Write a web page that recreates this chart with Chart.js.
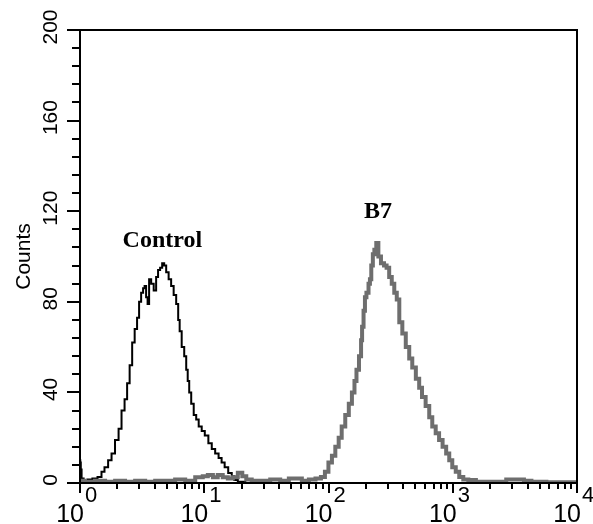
<!DOCTYPE html>
<html>
<head>
<meta charset="utf-8">
<script src="https://cdn.jsdelivr.net/npm/chart.js@4.4.1/dist/chart.umd.min.js"></script>
<style>
  html, body { margin: 0; padding: 0; background: #ffffff; }
  #wrap { width: 593px; height: 524px; position: relative; }
</style>
</head>
<body>
<div id="wrap"><canvas id="c" width="593" height="524"></canvas></div>
<script>
// ---- data ----
const controlX = [1.00, 1.01, 1.02, 1.04, 1.10, 1.20, 1.32, 1.45, 1.53, 1.62, 1.75, 1.84, 1.99, 2.10, 2.22, 2.35, 2.44, 2.58, 2.68, 2.83, 2.93, 3.05, 3.16, 3.28, 3.34, 3.47, 3.53, 3.67, 3.81, 4.03, 4.17, 4.33, 4.50, 4.67, 4.85, 5.03, 5.31, 5.52, 5.83, 6.06, 6.28, 6.40, 6.77, 7.03, 7.29, 7.43, 7.71, 8.00, 8.46, 8.77, 9.28, 9.81, 10.4, 11.2, 11.8, 12.7, 13.4, 14.2, 15.0, 16.2, 17.1, 17.8, 19.5, 23.5, 10000];
const controlCounts = [10, 9, 6, 2, 1, 1.5, 2, 2.6, 5, 7, 10, 13, 19, 24, 32, 37, 44, 52, 62, 68, 73, 80, 84, 86, 87, 82, 79, 90, 88, 85, 91, 94, 95, 97, 96, 93, 90, 87, 83, 79, 72, 67, 60, 56, 50, 45, 40, 35, 30, 28, 25, 23, 21, 17.6, 15, 13, 11, 9, 7, 4.4, 3, 1.3, 0.5, 0, 0];

const b7X = [1.0, 1.2, 1.45, 1.75, 2.1, 2.53, 3.05, 3.67, 4.42, 5.31, 6.40, 7.71, 9.28, 10.2, 11.2, 12.3, 13.4, 14.8, 16.2, 17.8, 19.5, 21.0, 22.6, 25.7, 31.0, 37.2, 44.9, 51.2, 57.3, 65.0, 74.4, 83.0, 91.0, 96.2, 103.7, 109.5, 117.6, 124, 131.5, 141.5, 150, 158.8, 164.9, 171, 181, 184.7, 188, 195, 198, 206, 214, 217, 225, 230, 238, 247, 257, 272, 288, 299, 317, 329, 348, 361, 382, 404, 434, 459, 486, 524, 550, 582, 629, 665, 704, 755, 798, 860, 911, 964, 1019, 1097, 1160, 1274, 1398, 1687, 2035, 2454, 2960, 3570, 3920, 4710, 6830, 10000];
const b7Counts = [1, 0.5, 1, 0.5, 1, 0.5, 1, 0.5, 1, 1, 1.5, 1, 2.5, 3, 3.5, 2.5, 3.5, 2.5, 2, 2.5, 4.5, 3, 1.5, 1, 1, 1.5, 1, 2, 2, 1, 1.5, 2, 2.6, 5, 9, 12, 16, 20, 25, 30, 35, 40, 45, 50, 56, 63, 69, 76, 82, 84, 88, 90, 96, 101, 103, 106, 100, 97, 96, 95, 91, 88, 84, 81, 71, 66, 60, 55, 51, 46, 42, 38, 34, 29, 25, 22, 19, 16, 13, 10, 7, 5, 2.6, 1.5, 1.3, 0.5, 0.5, 0.5, 1.5, 1.5, 1, 0.5, 0.3, 0.3];

const yTickValues = [0, 8, 16, 24, 32, 40, 48, 56, 64, 72, 80, 88, 96, 104, 112, 120, 128, 136, 144, 152, 160, 168, 176, 184, 192, 200];
const yLabelValues = [0, 40, 80, 120, 160, 200];
const xMajorValues = [1, 10, 100, 1000, 10000];
const xMajorExponents = ['0', '1', '2', '3', '4'];
const xMinorMultipliers = [2, 3, 4, 5, 6, 7, 8, 9];
const seriesNames = ['Control', 'B7'];
const annotationX = [4.6, 250];
const annotationY = [104, 117];
const yAxisTitle = 'Counts';

function toPoints(xs, ys) { return xs.map((x, i) => ({ x: x, y: ys[i] })); }

const framePlugin = {
  id: 'frame',
  afterDatasetsDraw(chart) {
    const ctx = chart.ctx;
    const xs = chart.scales.x, ys = chart.scales.y;
    const a = chart.chartArea;
    ctx.save();
    ctx.strokeStyle = '#000';
    ctx.lineWidth = 2;
    ctx.strokeRect(a.left, a.top, a.right - a.left, a.bottom - a.top);
    // y ticks
    ctx.beginPath();
    yTickValues.forEach(v => {
      const py = Math.round(ys.getPixelForValue(v));
      const len = (v % 40 === 0) ? 13 : 8;
      ctx.moveTo(a.left - len, py);
      ctx.lineTo(a.left, py);
    });
    // x ticks
    xMajorValues.forEach((v, i) => {
      const px = Math.round(xs.getPixelForValue(v));
      ctx.moveTo(px, a.bottom);
      ctx.lineTo(px, a.bottom + 10);
      if (i < xMajorValues.length - 1) {
        xMinorMultipliers.forEach(m => {
          const qx = Math.round(xs.getPixelForValue(v * m));
          ctx.moveTo(qx, a.bottom);
          ctx.lineTo(qx, a.bottom + 6);
        });
      }
    });
    ctx.stroke();
    // y labels (rotated)
    ctx.fillStyle = '#000';
    ctx.font = '21px "Liberation Sans", Arial, sans-serif';
    ctx.textAlign = 'center';
    ctx.textBaseline = 'alphabetic';
    yLabelValues.forEach(v => {
      const py = ys.getPixelForValue(v);
      ctx.save();
      ctx.translate(57, py - 3);
      ctx.rotate(-Math.PI / 2);
      ctx.fillText(String(v), 0, 0);
      ctx.restore();
    });
    // y title
    ctx.save();
    ctx.font = '21px "Liberation Sans", Arial, sans-serif';
    ctx.translate(30, (a.top + a.bottom) / 2);
    ctx.rotate(-Math.PI / 2);
    ctx.fillText(yAxisTitle, 0, 0);
    ctx.restore();
    // x labels with superscripts
    xMajorValues.forEach((v, i) => {
      const px = xs.getPixelForValue(v);
      ctx.font = '25px "Liberation Sans", Arial, sans-serif';
      ctx.textAlign = 'right';
      ctx.fillText('10', px + 4, 522);
      ctx.font = '22px "Liberation Sans", Arial, sans-serif';
      ctx.textAlign = 'left';
      ctx.fillText(xMajorExponents[i], px + 5, 502);
    });
    // series annotations
    ctx.font = 'bold 24px "Liberation Serif", "Times New Roman", serif';
    ctx.textAlign = 'center';
    seriesNames.forEach((n, i) => {
      ctx.fillText(n, xs.getPixelForValue(annotationX[i]), ys.getPixelForValue(annotationY[i]));
    });
    ctx.restore();
  }
};

new Chart(document.getElementById('c'), {
  type: 'line',
  data: {
    datasets: [
      {
        label: seriesNames[1],
        data: toPoints(b7X, b7Counts),
        borderColor: '#6e6e6e',
        borderWidth: 4,
        pointRadius: 0,
        stepped: 'middle',
        fill: false
      },
      {
        label: seriesNames[0],
        data: toPoints(controlX, controlCounts),
        borderColor: '#000000',
        borderWidth: 2,
        pointRadius: 0,
        stepped: 'middle',
        fill: false
      }
    ]
  },
  options: {
    responsive: false,
    animation: false,
    devicePixelRatio: 1,
    layout: { padding: { left: 80, top: 30, right: 16, bottom: 41 } },
    plugins: { legend: { display: false }, tooltip: { enabled: false } },
    scales: {
      x: { type: 'logarithmic', min: 1, max: 10000, display: false },
      y: { type: 'linear', min: 0, max: 200, display: false }
    }
  },
  plugins: [framePlugin]
});
</script>
</body>
</html>
